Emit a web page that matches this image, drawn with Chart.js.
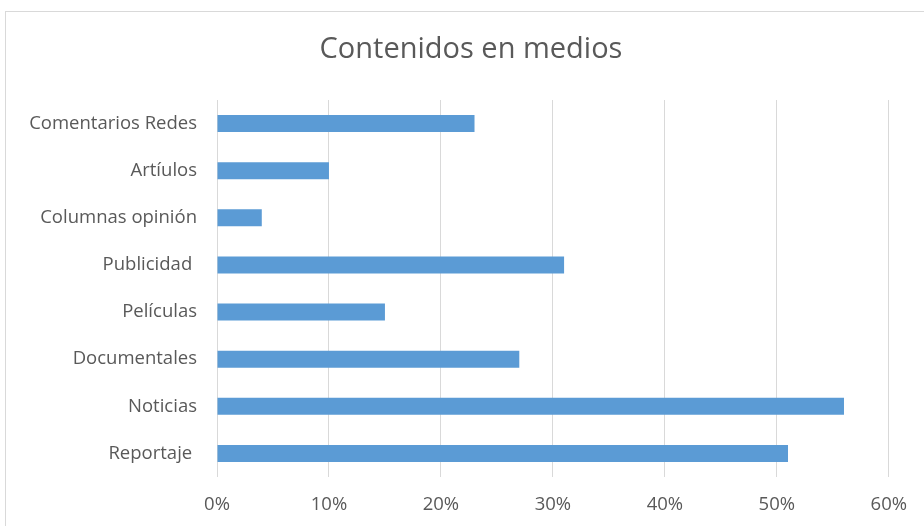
<!DOCTYPE html>
<html>
<head>
<meta charset="utf-8">
<script src="https://cdn.jsdelivr.net/npm/chart.js@4/dist/chart.umd.min.js"></script>
<style>
  html, body { margin: 0; padding: 0; background: #ffffff; }
  #frame {
    position: absolute; left: 5px; top: 11px; width: 940px; height: 540px;
    border: 1px solid #d9d9d9; box-sizing: border-box;
  }
  #wrap { position: absolute; left: 0; top: 0; width: 924px; height: 526px; }
</style>
</head>
<body>
<div id="frame"></div>
<div id="wrap"><canvas id="chart" width="924" height="526"></canvas></div>
<script>
// Content categories, listed top to bottom
const categories = [
  'Comentarios Redes',
  'Artíulos',
  'Columnas opinión',
  'Publicidad ',
  'Películas',
  'Documentales',
  'Noticias',
  'Reportaje '
];
// Share of each content type (percent)
const shares = [23, 10, 4, 31, 15, 27, 56, 51];
const chartTitle = 'Contenidos en medios';

const textColor = '#595959';
const fontFamily = '"Open Sans", "Noto Sans", sans-serif';

// Title centred on the framed panel rather than on the plot
const panelTitle = {
  id: 'panelTitle',
  afterDraw(chart) {
    const ctx = chart.ctx;
    ctx.save();
    ctx.font = '29px ' + fontFamily;
    ctx.fillStyle = textColor;
    ctx.textAlign = 'center';
    ctx.textBaseline = 'middle';
    ctx.fillText(chartTitle, chart.width / 2 + 9, 50);
    ctx.restore();
  }
};

new Chart(document.getElementById('chart'), {
  type: 'bar',
  data: {
    labels: categories,
    datasets: [{
      data: shares,
      backgroundColor: '#5b9bd5',
      borderWidth: 0,
      categoryPercentage: 1,
      barPercentage: 0.36
    }]
  },
  plugins: [panelTitle],
  options: {
    indexAxis: 'y',
    responsive: false,
    animation: false,
    layout: { padding: { top: 100, right: 34, bottom: 10, left: 0 } },
    plugins: {
      legend: { display: false },
      tooltip: { enabled: false },
      title: { display: false }
    },
    scales: {
      x: {
        min: 0,
        max: 60,
        ticks: {
          stepSize: 10,
          color: textColor,
          font: { family: fontFamily, size: 18.5 },
          padding: 17,
          callback: v => v + '%'
        },
        grid: { color: '#d9d9d9', drawTicks: false },
        border: { display: false },
        afterFit: scale => { scale.height = 39; }
      },
      y: {
        ticks: {
          color: textColor,
          font: { family: fontFamily, size: 18.5 },
          padding: 20
        },
        grid: { display: false, drawTicks: false },
        border: { display: false },
        afterFit: scale => { scale.width = 217; }
      }
    }
  }
});
</script>
</body>
</html>
